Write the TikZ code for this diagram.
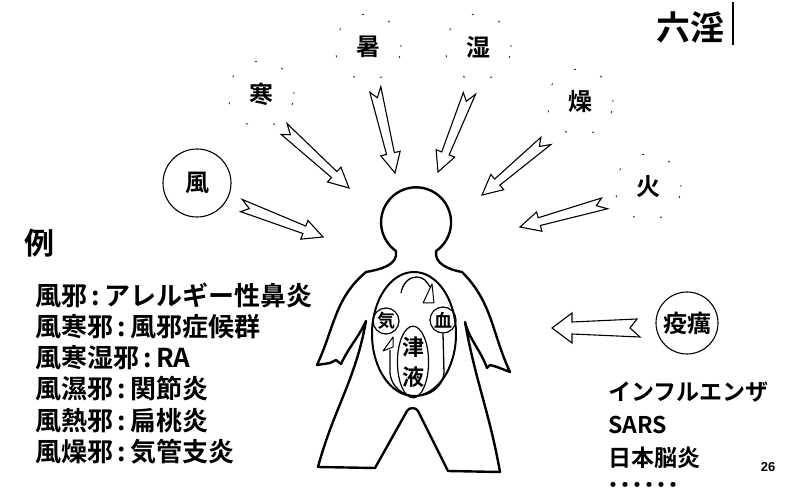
\documentclass[tikz,border=0pt]{standalone}
\usepackage{fontspec}
\setmainfont{Noto Sans CJK JP}[BoldFont={* Bold}]
\newfontfamily\latinfont{Liberation Sans}
\usetikzlibrary{calc,shapes.geometric}

% hollow zigzag-tailed arrow from #2 (tail) to #3 (tip), #1 scales the width
\newcommand\shockarrow[3][1]{%
	\pgfmathsetmacro\arrTail{6*#1}%
	\pgfmathsetmacro\arrShaft{4*#1}%
	\pgfmathsetmacro\arrHead{10*#1}%
	\draw[shock] ($(#2)!\arrTail pt!90:(#3)$)
		-- ($(#3)!20pt!(#2)!\arrShaft pt!-90:(#2)$)
		-- ($(#3)!20pt!(#2)!\arrHead pt!-90:(#2)$)
		-- (#3)
		-- ($(#3)!20pt!(#2)!\arrHead pt!90:(#2)$)
		-- ($(#3)!20pt!(#2)!\arrShaft pt!90:(#2)$)
		-- ($(#2)!3pt!(#3)!\arrTail pt!-90:(#3)$)
		-- ($(#2)!10pt!(#3)$)
		-- cycle;}

\begin{document}
\begin{tikzpicture}[x=1pt, y=1pt,
	shock/.style={draw, fill=white, line width=1.1pt},
	halo/.style={circle, minimum size=66pt, draw=black!80, line width=0.9pt, dash pattern=on 2pt off 26pt, font=\fontsize{24}{24}\selectfont\bfseries},
	ring/.style={circle, draw, line width=1.1pt, font=\fontsize{24}{24}\selectfont\bfseries},
	figure/.style={line width=2.4pt, line join=round},
	item/.style={anchor=west, inner sep=0pt, font=\fontsize{26}{26}\selectfont\bfseries},
	case/.style={anchor=west, inner sep=0pt, font=\fontsize{23}{23}\selectfont\bfseries},
	tiphead/.style={draw, fill=white, line width=1pt, line join=round}]
	\fill[white] (0,0) rectangle (792,498);
	\useasboundingbox (0,0) rectangle (792,498);

	% the six evils around the figure
	\node[font=\fontsize{34}{34}\selectfont\bfseries] (liuyin) at (690,471) {六淫};
	\draw[line width=1.2pt] (733,453) -- (733,496);
	\node[halo] (cold) at (261,404) {寒};
	\node[halo] (heat) at (368,451) {暑};
	\node[halo] (damp) at (478,451) {湿};
	\node[halo] (dry) at (580,396) {燥};
	\node[halo] (fire) at (648,311) {火};
	\node[ring, minimum size=68pt] (wind) at (197,315) {風};
	\node[ring, minimum size=62pt] (plague) at (687,175) {疫癘};

	\coordinate (wind-a) at (240,293);  \coordinate (wind-b) at (323,261);
	\coordinate (cold-a) at (283,370);  \coordinate (cold-b) at (349,310);
	\coordinate (heat-a) at (375,410);  \coordinate (heat-b) at (395,325);
	\coordinate (damp-a) at (470,406);  \coordinate (damp-b) at (438,326);
	\coordinate (dry-a) at (547,358);   \coordinate (dry-b) at (482,303);
	\coordinate (fire-a) at (606,295);  \coordinate (fire-b) at (520,271);
	\coordinate (plague-a) at (640,170); \coordinate (plague-b) at (552,170);
	\foreach \e in {wind,cold,heat,damp,dry,fire}
		\shockarrow{\e-a}{\e-b};
	\shockarrow[1.5]{plague-a}{plague-b};

	% the body
	\draw[figure] (396,247) arc[start angle=235, end angle=-55, radius=35]
		to[out=-100, in=170] (462,226)
		to[out=-45, in=115] (510,126) -- (497,131) -- (490,133) -- (487,130)
		to[out=110, in=-75] (465,176)
		to[out=-80, in=100] (500,26) -- (448,27)
		-- (418,87) to[out=115, in=65] (407,87)
		-- (375,30) -- (318,31)
		to[out=75, in=-100] (366,177)
		to[out=-115, in=65] (341,134) -- (336,138) -- (330,135) -- (317,133)
		to[out=65, in=-140] (366,226)
		to[out=10, in=-80] cycle;
	\draw[line width=2pt] (414,164) ellipse[x radius=42, y radius=62];

	% qi, blood and fluids inside
	\node[circle, draw, line width=1.2pt, minimum size=26pt, inner sep=0pt, font=\fontsize{18}{18}\selectfont\bfseries] (qi) at (386,177) {気};
	\node[circle, draw, line width=1.2pt, minimum size=26pt, inner sep=0pt, font=\fontsize{18}{18}\selectfont\bfseries] (blood) at (443,178) {血};
	\node[ellipse, draw, line width=1.2pt, minimum width=30pt, minimum height=55pt, inner sep=0pt, align=center, font=\fontsize{22}{30}\selectfont\bfseries] (fluid) at (413,136) {津\\液};
	\draw[line width=1.3pt] (401,205) to[out=80, in=180] (417,221) to[out=0, in=120] (430,211);
	\draw[tiphead] (432,214) -- (434,195) -- (423,195) -- cycle;
	\draw[line width=1.3pt] (blood.south) -- (444,125) to[out=-95, in=0] (416,102) to[out=180, in=-85] (390,125) -- (390,148);
	\draw[tiphead] (393,161) -- (383,147) -- (393,151) -- cycle;

	% examples
	\node[font=\fontsize{30}{30}\selectfont\bfseries] (rei) at (39,255) {例};
	\foreach \t [count=\i] in {風邪\,:\,アレルギー性鼻炎, 風寒邪\,:\,風邪症候群, 風寒湿邪\,:\,RA,
			風濕邪\,:\,関節炎, 風熱邪\,:\,扁桃炎, 風燥邪\,:\,気管支炎}
		\node[item] (ex\i) at (35,{234.3-31.3*\i}) {\t};
	\node[case] (flu) at (608,106) {インフルエンザ};
	\node[case] (sars) at (608,73) {SARS};
	\node[case] (je) at (608,40) {日本脳炎};
	\node[case, font=\fontsize{20}{20}\selectfont\bfseries] (more) at (603,11) {\addfontfeature{LetterSpace=-40}・・・・・・};
	\node[font=\latinfont\fontsize{13}{13}\selectfont\bfseries] (page) at (768,31) {26};
\end{tikzpicture}
\end{document}
